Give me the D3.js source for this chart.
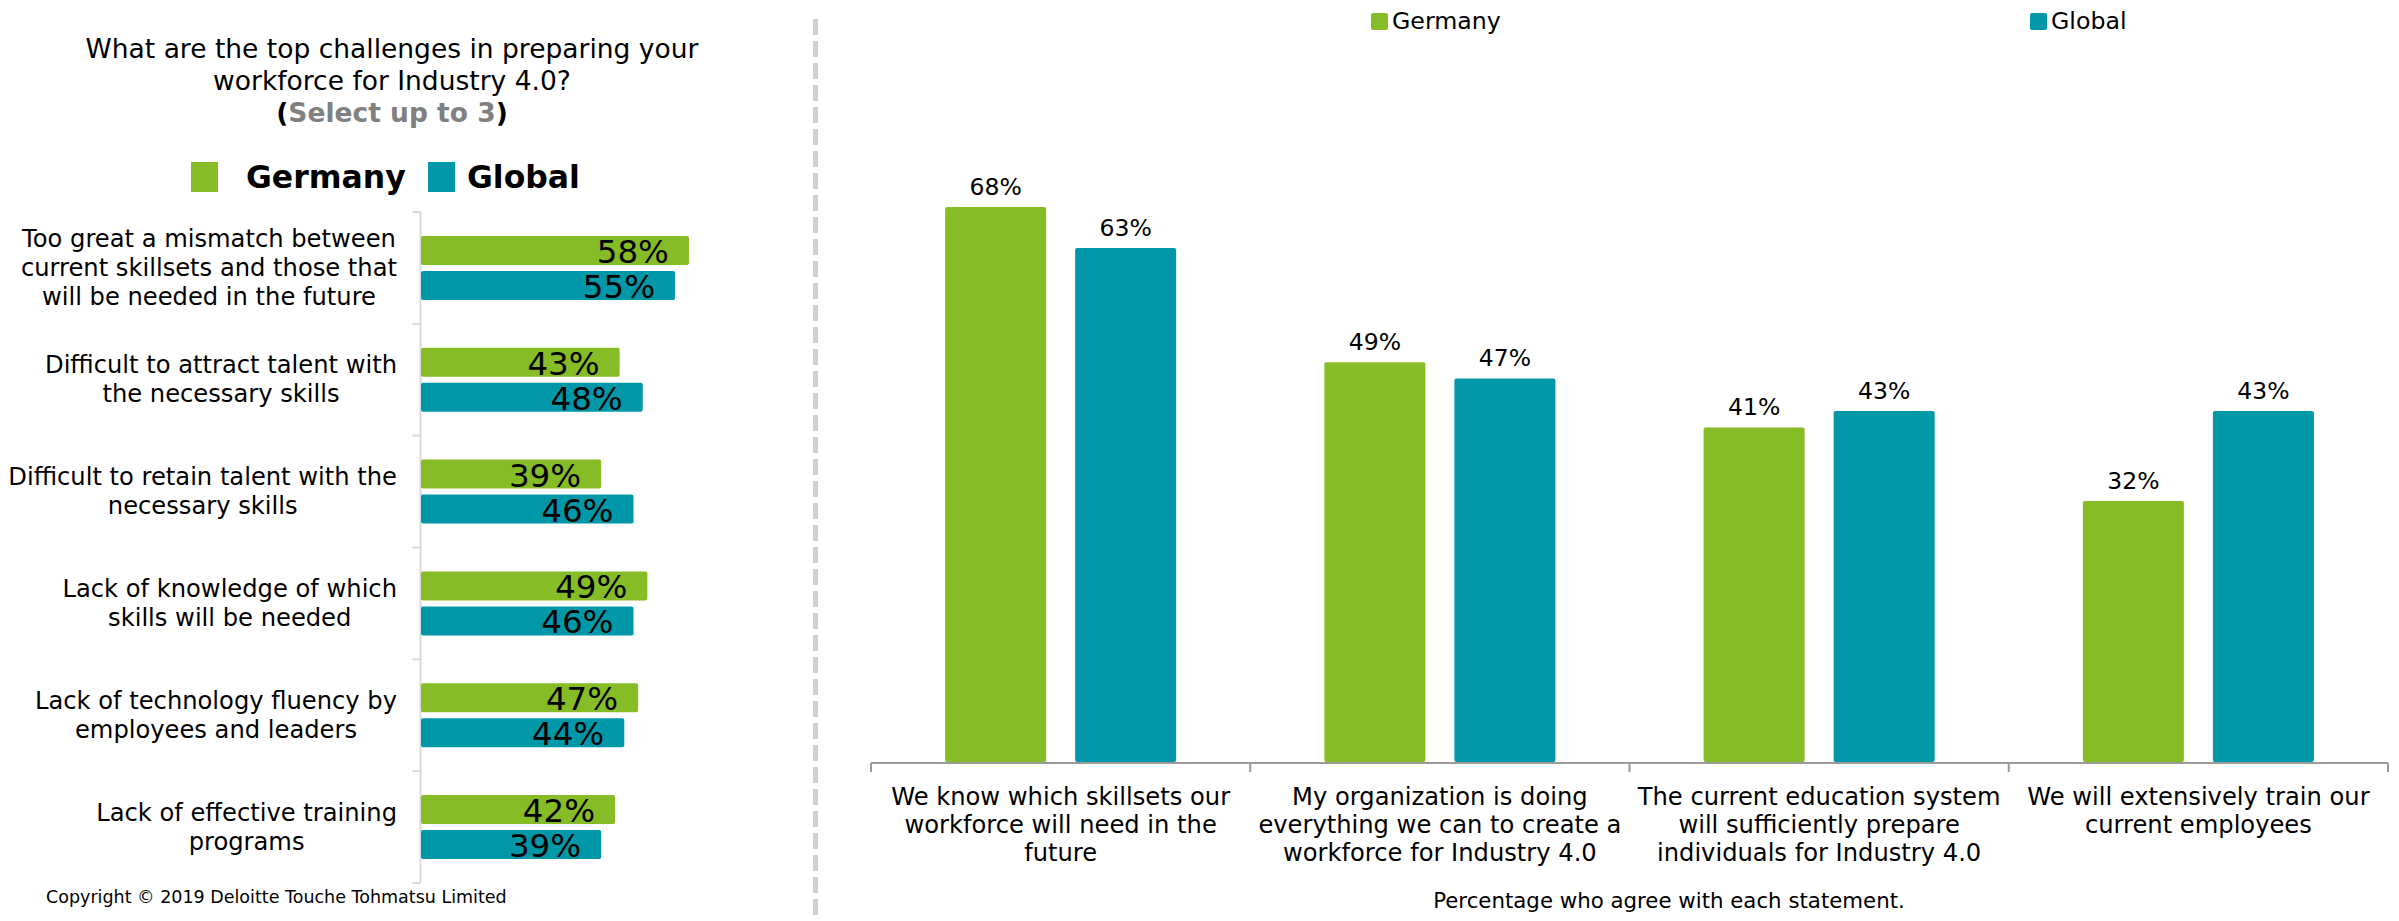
<!DOCTYPE html>
<html>
<head>
<meta charset="utf-8">
<script src="https://cdn.jsdelivr.net/npm/d3@7"></script>
<style>
  body { margin: 0; background: #fff; }
  text { font-family: Verdana, "DejaVu Sans", sans-serif; fill: #000; }
</style>
</head>
<body>
<script>
// left chart data
var challenges = [
  "Too great a mismatch between\ncurrent skillsets and those that\nwill be needed in the future",
  "Difficult to attract talent with\nthe necessary skills",
  "Difficult to retain talent with the\nnecessary skills",
  "Lack of knowledge of which\nskills will be needed",
  "Lack of technology fluency by\nemployees and leaders",
  "Lack of effective training\nprograms"
];
var challengeGermany = [58, 43, 39, 49, 47, 42];
var challengeGlobal = [55, 48, 46, 46, 44, 39];

// right chart data
var statements = [
  "We know which skillsets our\nworkforce will need in the\nfuture",
  "My organization is doing\neverything we can to create a\nworkforce for Industry 4.0",
  "The current education system\nwill sufficiently prepare\nindividuals for Industry 4.0",
  "We will extensively train our\ncurrent employees"
];
var agreeGermany = [68, 49, 41, 32];
var agreeGlobal = [63, 47, 43, 43];

var seriesNames = ["Germany", "Global"];
var colors = {Germany: "#86BC25", Global: "#0097A9"};

var svg = d3.select("body").append("svg").attr("width", 2399).attr("height", 921);

// ---------- left panel ----------
var title = svg.append("text").attr("text-anchor", "middle").attr("font-size", 26.5);
title.append("tspan").attr("x", 392).attr("y", 58).text("What are the top challenges in preparing your");
title.append("tspan").attr("x", 392).attr("y", 90).text("workforce for Industry 4.0?");
var t3 = title.append("tspan").attr("x", 392).attr("y", 122).attr("font-weight", "bold");
t3.append("tspan").text("(");
t3.append("tspan").style("fill", "#808080").text("Select up to 3");
t3.append("tspan").text(")");

// left legend
var legL = [{name: "Germany", x: 191, tx: 246}, {name: "Global", x: 428, tx: 467}];
legL.forEach(function(d){
  svg.append("rect").attr("x", d.x).attr("y", 162).attr("width", 27).attr("height", 30)
     .attr("fill", colors[d.name]);
  svg.append("text").attr("x", d.tx).attr("y", 188).attr("font-size", 31.5)
     .attr("font-weight", "bold").text(d.name);
});

var leftRows = challenges.map(function(c, i){
  return {label: c, Germany: challengeGermany[i], Global: challengeGlobal[i]};
});

var yL = d3.scaleBand().domain(d3.range(challenges.length)).range([212, 883]);
var yL2 = d3.scaleBand().domain(seriesNames).range([0, yL.bandwidth()])
            .paddingInner(0.171).paddingOuter(0.683);
var xL = d3.scaleLinear().domain([0, 100]).range([421, 883]);

// left axis line and ticks between categories
var gAxL = svg.append("g").attr("transform", "translate(420.5,0)");
gAxL.append("line").attr("y1", 212).attr("y2", 883).attr("stroke", "#d9d9d9").attr("stroke-width", 2);
gAxL.selectAll("line.tk").data(d3.range(challenges.length + 1)).enter().append("line")
  .attr("class", "tk")
  .attr("x1", -8).attr("x2", 0)
  .attr("y1", function(d){ return yL.range()[0] + d * yL.step(); })
  .attr("y2", function(d){ return yL.range()[0] + d * yL.step(); })
  .attr("stroke", "#d9d9d9").attr("stroke-width", 2);

var rowL = svg.selectAll("g.rowL").data(leftRows).enter().append("g")
  .attr("class", "rowL")
  .attr("transform", function(d, i){ return "translate(0," + yL(i) + ")"; });

rowL.selectAll("rect").data(function(d){
    return seriesNames.map(function(s){ return {s: s, v: d[s]}; });
  }).enter().append("rect")
  .attr("x", xL(0))
  .attr("y", function(d){ return yL2(d.s); })
  .attr("width", function(d){ return xL(d.v) - xL(0); })
  .attr("height", yL2.bandwidth())
  .attr("rx", 2)
  .attr("fill", function(d){ return colors[d.s]; });

rowL.selectAll("text.val").data(function(d){
    return seriesNames.map(function(s){ return {s: s, v: d[s]}; });
  }).enter().append("text")
  .attr("class", "val")
  .attr("x", function(d){ return xL(d.v) - 20; })
  .attr("y", function(d){ return yL2(d.s) + yL2.bandwidth() - 2; })
  .attr("text-anchor", "end")
  .attr("font-size", 32.5)
  .text(function(d){ return d.v + "%"; });

// category labels: centered lines, block right-aligned to 396
rowL.each(function(d){
  var lines = d.label.split("\n");
  var g = d3.select(this);
  var txt = g.append("text").attr("text-anchor", "middle").attr("font-size", 24.2);
  var top = yL.bandwidth() / 2 - (lines.length - 1) * 29 / 2 + 8;
  var ts = lines.map(function(l, k){
    return txt.append("tspan").attr("y", top + k * 29).text(l);
  });
  var w = d3.max(ts, function(t){ return t.node().getComputedTextLength(); });
  ts.forEach(function(t){ t.attr("x", 397 - w / 2); });
});

svg.append("text").attr("x", 46).attr("y", 903).attr("font-size", 17.5)
  .text("Copyright \u00A9 2019 Deloitte Touche Tohmatsu Limited");

// divider
svg.append("line").attr("x1", 815.5).attr("x2", 815.5).attr("y1", 19).attr("y2", 921)
  .attr("stroke", "#d0d0d0").attr("stroke-width", 5).attr("stroke-dasharray", "16,6");

// ---------- right panel ----------
var legR = [{name: "Germany", x: 1371}, {name: "Global", x: 2030}];
legR.forEach(function(d){
  svg.append("rect").attr("x", d.x).attr("y", 13).attr("width", 17).attr("height", 17)
     .attr("rx", 2).attr("fill", colors[d.name]);
  svg.append("text").attr("x", d.x + 21).attr("y", 29).attr("font-size", 23.7).text(d.name);
});

var rightRows = statements.map(function(c, i){
  return {label: c, Germany: agreeGermany[i], Global: agreeGlobal[i]};
});

var xR = d3.scaleBand().domain(d3.range(statements.length)).range([871, 2388]);
var xR2 = d3.scaleBand().domain(seriesNames).range([0, xR.bandwidth()])
            .paddingInner(0.223).paddingOuter(0.57);
var yR = d3.scaleLinear().domain([0, 100]).range([762, -54]);

var colR = svg.selectAll("g.colR").data(rightRows).enter().append("g")
  .attr("class", "colR")
  .attr("transform", function(d, i){ return "translate(" + xR(i) + ",0)"; });

colR.selectAll("rect").data(function(d){
    return seriesNames.map(function(s){ return {s: s, v: d[s]}; });
  }).enter().append("rect")
  .attr("x", function(d){ return xR2(d.s); })
  .attr("y", function(d){ return yR(d.v); })
  .attr("width", xR2.bandwidth())
  .attr("height", function(d){ return yR(0) - yR(d.v); })
  .attr("rx", 2)
  .attr("fill", function(d){ return colors[d.s]; });

colR.selectAll("text.val").data(function(d){
    return seriesNames.map(function(s){ return {s: s, v: d[s]}; });
  }).enter().append("text")
  .attr("class", "val")
  .attr("x", function(d){ return xR2(d.s) + xR2.bandwidth() / 2; })
  .attr("y", function(d){ return yR(d.v) - 12; })
  .attr("text-anchor", "middle")
  .attr("font-size", 23.5)
  .text(function(d){ return d.v + "%"; });

// x axis
var gAxR = svg.append("g").attr("transform", "translate(0,763)");
gAxR.append("line").attr("x1", 871).attr("x2", 2388).attr("stroke", "#9a9a9a").attr("stroke-width", 2);
gAxR.selectAll("line.tk").data(d3.range(statements.length + 1)).enter().append("line")
  .attr("class", "tk")
  .attr("x1", function(d){ return xR.range()[0] + d * xR.step(); })
  .attr("x2", function(d){ return xR.range()[0] + d * xR.step(); })
  .attr("y1", 0).attr("y2", 9)
  .attr("stroke", "#9a9a9a").attr("stroke-width", 2);

colR.each(function(d){
  var lines = d.label.split("\n");
  var txt = d3.select(this).append("text").attr("text-anchor", "middle").attr("font-size", 24.2);
  lines.forEach(function(l, k){
    txt.append("tspan").attr("x", xR.bandwidth() / 2).attr("y", 805 + k * 28).text(l);
  });
});

svg.append("text").attr("x", 1669).attr("y", 908).attr("text-anchor", "middle")
  .attr("font-size", 21.3).text("Percentage who agree with each statement.");
</script>
</body>
</html>
